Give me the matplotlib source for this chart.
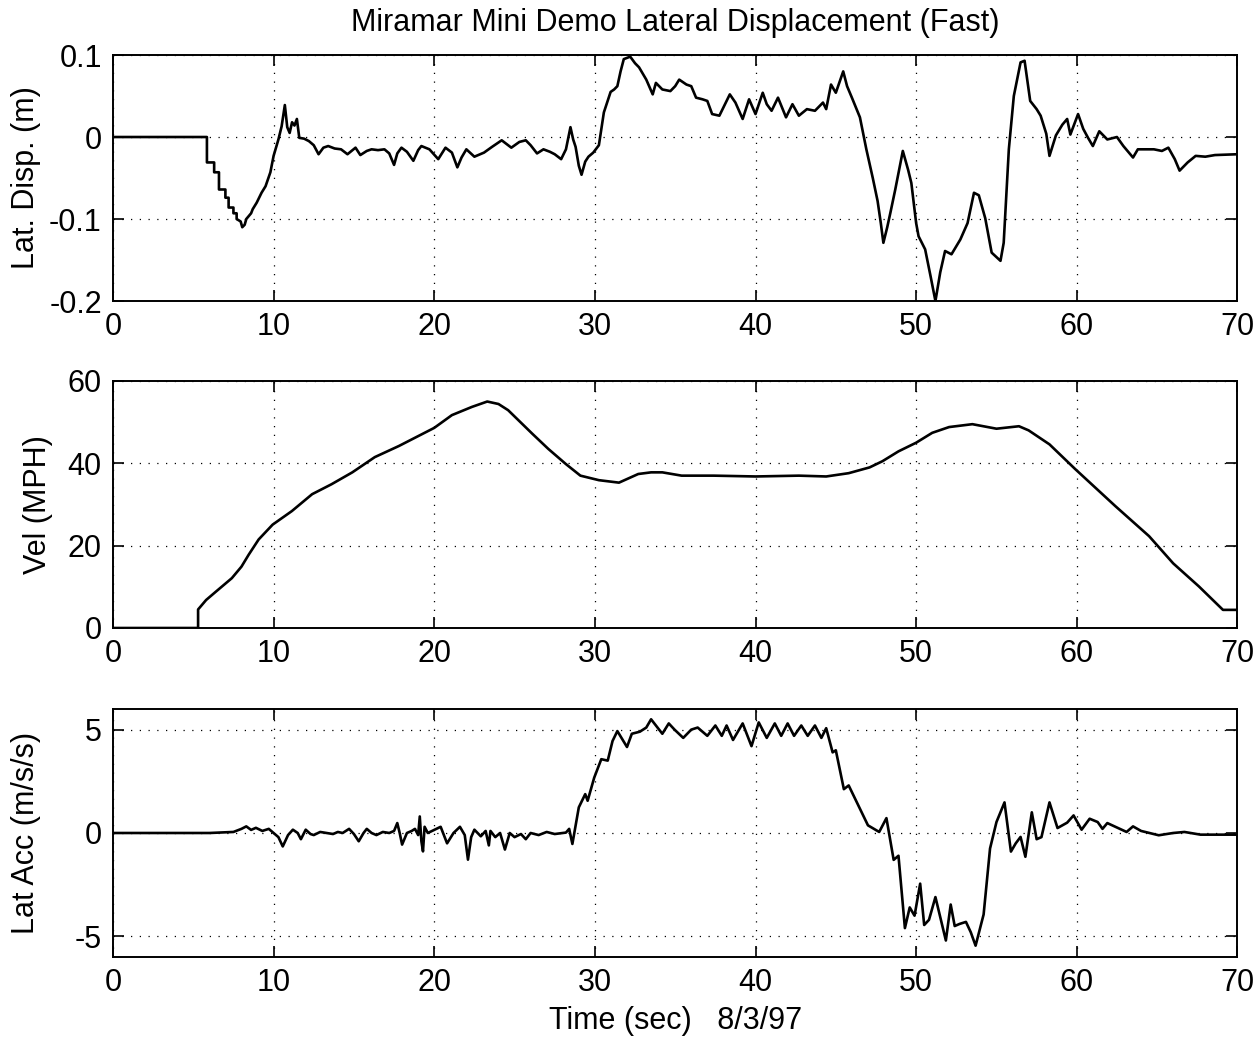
import numpy as np
import matplotlib
matplotlib.use('Agg')
import matplotlib.pyplot as plt

# lateral displacement (m)
t_disp = [0, 5.85, 5.85, 6.3, 6.3, 6.6, 6.6, 7.0, 7.0, 7.2, 7.2, 7.5, 7.5, 7.7, 7.7, 7.95, 8.05, 8.2,
          8.3, 8.6, 8.7, 8.95, 9.25, 9.5, 9.8, 10.0, 10.3, 10.5, 10.7, 10.85, 11.0, 11.15, 11.3, 11.45,
          11.6, 11.9, 12.2, 12.5, 12.8, 13.1, 13.4, 13.8, 14.2, 14.6, 15.1, 15.4, 15.8, 16.1, 16.5,
          16.9, 17.2, 17.5, 17.7, 17.96, 18.3, 18.7, 19.0, 19.2, 19.7, 20.25, 20.7, 21.1, 21.44, 21.7,
          22.0, 22.5, 23.1, 23.6, 24.2, 24.8, 25.3, 25.7, 26.0, 26.4, 26.8, 27.2, 27.5, 27.9, 28.2,
          28.48, 28.65, 28.8, 29.0, 29.17, 29.4, 29.6, 29.9, 30.25, 30.56, 30.98, 31.2, 31.4, 31.6,
          31.8, 32.2, 32.5, 32.75, 33.2, 33.6, 33.8, 34.2, 34.7, 35.0, 35.25, 35.7, 36.0, 36.3, 36.7,
          37.0, 37.3, 37.75, 38.1, 38.4, 38.75, 39.2, 39.6, 40.0, 40.45, 40.7, 41.0, 41.4, 41.9, 42.3,
          42.7, 43.2, 43.7, 44.2, 44.4, 44.7, 45.0, 45.46, 45.7, 46.0, 46.5, 46.9, 47.3, 47.6, 47.8,
          47.96, 48.2, 48.4, 48.7, 49.17, 49.5, 49.7, 50.0, 50.15, 50.56, 50.9, 51.2, 51.5, 51.8,
          52.2, 52.75, 53.2, 53.6, 53.9, 54.3, 54.7, 55.25, 55.45, 55.77, 56.08, 56.5, 56.75, 57.1,
          57.5, 57.75, 58.1, 58.3, 58.7, 59.1, 59.4, 59.6, 60.08, 60.4, 60.7, 61.0, 61.4, 61.9, 62.5,
          62.9, 63.5, 63.8, 64.8, 65.3, 65.7, 66.1, 66.4, 66.9, 67.4, 68.0, 68.6, 70.0]
disp = [0, 0, -0.031, -0.031, -0.043, -0.043, -0.064, -0.064, -0.074, -0.074, -0.086, -0.086, -0.093,
        -0.093, -0.100, -0.103, -0.110, -0.107, -0.100, -0.093, -0.088, -0.080, -0.068, -0.060, -0.043,
        -0.023, -0.003, 0.013, 0.039, 0.012, 0.005, 0.018, 0.014, 0.022, -0.001, -0.002, -0.005, -0.010,
        -0.021, -0.013, -0.011, -0.014, -0.015, -0.021, -0.013, -0.022, -0.017, -0.015, -0.016, -0.015,
        -0.020, -0.034, -0.020, -0.013, -0.018, -0.029, -0.016, -0.011, -0.015, -0.027, -0.013, -0.019,
        -0.037, -0.025, -0.015, -0.024, -0.019, -0.012, -0.004, -0.013, -0.006, -0.004, -0.010, -0.020,
        -0.015, -0.018, -0.021, -0.027, -0.015, 0.012, -0.003, -0.012, -0.035, -0.046, -0.030, -0.024,
        -0.019, -0.010, 0.030, 0.055, 0.058, 0.062, 0.080, 0.095, 0.098, 0.090, 0.085, 0.070, 0.052,
        0.066, 0.058, 0.056, 0.062, 0.070, 0.064, 0.062, 0.048, 0.046, 0.044, 0.028, 0.026, 0.040,
        0.052, 0.042, 0.022, 0.046, 0.028, 0.054, 0.040, 0.032, 0.048, 0.024, 0.040, 0.026, 0.034,
        0.032, 0.042, 0.034, 0.064, 0.054, 0.080, 0.062, 0.048, 0.024, -0.015, -0.050, -0.078, -0.105,
        -0.129, -0.110, -0.092, -0.064, -0.017, -0.040, -0.056, -0.105, -0.121, -0.137, -0.170, -0.200,
        -0.165, -0.139, -0.143, -0.125, -0.105, -0.068, -0.071, -0.099, -0.141, -0.151, -0.129, -0.015,
        0.050, 0.091, 0.093, 0.044, 0.034, 0.026, 0.004, -0.023, 0.002, 0.015, 0.022, 0.003, 0.028,
        0.010, -0.001, -0.011, 0.007, -0.003, 0.000, -0.011, -0.025, -0.015, -0.015, -0.017, -0.013,
        -0.027, -0.041, -0.031, -0.023, -0.024, -0.022, -0.021]

# velocity (MPH)
t_vel = [0, 5.3, 5.3, 5.8, 6.4, 7.4, 8.0, 8.45, 9.07, 9.94, 11.14, 12.4, 13.6, 14.9, 16.3, 17.8, 20.0,
         21.1, 22.35, 23.3, 24.0, 24.6, 25.1, 26.1, 27.1, 28.2, 29.1, 30.25, 31.5, 32.7, 33.5, 34.2,
         35.4, 37.4, 40.0, 42.7, 44.4, 45.8, 47.1, 47.9, 48.9, 50.0, 51.0, 52.05, 53.5, 55.0, 56.4,
         57.0, 58.3, 59.9, 62.4, 64.5, 66.0, 67.6, 69.1, 70.0]
vel = [0, 0, 4.5, 6.8, 8.8, 12.1, 14.9, 17.8, 21.5, 25.1, 28.4, 32.5, 34.9, 37.8, 41.5, 44.2, 48.6,
       51.7, 53.7, 55.0, 54.4, 52.9, 51.0, 47.2, 43.5, 39.8, 37.0, 35.9, 35.3, 37.4, 37.8, 37.8,
       37.0, 37.0, 36.8, 37.0, 36.8, 37.6, 39.0, 40.5, 42.9, 45.0, 47.4, 48.8, 49.5, 48.4, 49.0,
       48.0, 44.6, 38.6, 29.6, 22.3, 15.7, 10.1, 4.4, 4.4]

# lateral acceleration (m/s/s)
t_acc = [0, 6.0, 7.5, 8.0, 8.3, 8.6, 8.9, 9.3, 9.7, 10.0, 10.3, 10.57, 10.9, 11.2, 11.5, 11.7, 12.0,
         12.3, 12.5, 12.9, 13.3, 13.7, 14.0, 14.3, 14.7, 15.0, 15.3, 15.6, 15.8, 16.1, 16.4, 16.8,
         17.2, 17.5, 17.7, 17.85, 18.0, 18.3, 18.6, 18.8, 19.0, 19.1, 19.2, 19.3, 19.4, 19.6, 20.0,
         20.4, 20.8, 21.2, 21.6, 21.9, 22.1, 22.3, 22.5, 22.9, 23.2, 23.4, 23.5, 23.8, 24.1, 24.4,
         24.7, 25.0, 25.4, 25.7, 26.0, 26.5, 27.0, 27.5, 28.2, 28.4, 28.6, 29.0, 29.4, 29.55, 29.96,
         30.4, 30.8, 31.1, 31.4, 32.0, 32.3, 32.8, 33.2, 33.5, 33.8, 34.2, 34.6, 34.96, 35.5, 36.0,
         36.4, 37.0, 37.5, 37.9, 38.2, 38.6, 39.2, 39.75, 40.2, 40.7, 41.2, 41.6, 42.0, 42.4, 42.85,
         43.25, 43.7, 44.1, 44.4, 44.8, 45.0, 45.5, 45.8, 46.5, 47.0, 47.7, 48.15, 48.6, 48.9, 49.3,
         49.6, 49.9, 50.25, 50.5, 50.8, 51.2, 51.85, 52.15, 52.4, 52.7, 53.1, 53.4, 53.7, 54.2, 54.6,
         55.0, 55.5, 55.9, 56.2, 56.5, 56.8, 57.2, 57.5, 57.8, 58.3, 58.8, 59.4, 59.8, 60.3, 60.8,
         61.3, 61.6, 61.9, 62.4, 63.1, 63.5, 64.0, 65.1, 66.0, 66.7, 67.7, 70.0]
acc = [0, 0, 0.05, 0.2, 0.32, 0.15, 0.25, 0.1, 0.2, 0.0, -0.2, -0.65, -0.1, 0.16, 0.0, -0.3, 0.16,
       -0.05, -0.1, 0.05, 0.0, -0.05, 0.05, 0.0, 0.2, -0.05, -0.4, 0.0, 0.2, 0.0, -0.1, 0.05,
       0.0, 0.1, 0.48, 0.0, -0.56, 0.0, 0.1, 0.2, -0.1, 0.8, -0.4, -0.89, 0.3, 0.0, 0.15,
       0.3, -0.5, 0.0, 0.3, -0.1, -1.29, -0.2, 0.16, -0.16, 0.1, -0.6, 0.1, -0.2, 0.0, -0.8,
       0.0, -0.2, -0.05, -0.3, 0.0, -0.1, 0.05, -0.05, 0.02, 0.2, -0.53, 1.24, 1.88, 1.56, 2.68,
       3.57, 3.5, 4.45, 4.93, 4.16, 4.8, 4.9, 5.1, 5.5, 5.2, 4.8, 5.3, 5.0, 4.6, 5.0,
       5.1, 4.7, 5.2, 4.7, 5.2, 4.5, 5.3, 4.2, 5.35, 4.6, 5.3, 4.7, 5.3, 4.7, 5.2,
       4.7, 5.2, 4.6, 5.07, 3.9, 4.0, 2.12, 2.3, 1.17, 0.37, 0.05, 0.72, -1.3, -1.1, -4.6,
       -3.6, -4.0, -2.45, -4.45, -4.2, -3.1, -5.2, -3.46, -4.5, -4.4, -4.3, -4.8, -5.45, -3.94, -0.75,
       0.53, 1.48, -0.9, -0.5, -0.19, -1.15, 1.0, -0.3, -0.2, 1.48, 0.24, 0.5, 0.85, 0.16, 0.69,
       0.53, 0.2, 0.48, 0.3, 0.05, 0.32, 0.1, -0.11, 0.0, 0.05, -0.08, -0.08]

xticks = [0, 10, 20, 30, 40, 50, 60, 70]
disp_ticks = [-0.2, -0.1, 0, 0.1]
disp_labels = ['-0.2', '-0.1', '0', '0.1']
vel_ticks = [0, 20, 40, 60]
acc_ticks = [-5, 0, 5]

plt.rcParams['font.family'] = ['Liberation Sans', 'DejaVu Sans']
plt.rcParams['font.size'] = 22
plt.rcParams['axes.unicode_minus'] = False

fig = plt.figure(figsize=(12.55, 10.38), dpi=100)
ax1 = fig.add_axes([0.090, 0.710, 0.896, 0.237])
ax2 = fig.add_axes([0.090, 0.395, 0.896, 0.238])
ax3 = fig.add_axes([0.090, 0.078, 0.896, 0.239])

ax1.plot(t_disp, disp, color='k', lw=1.9)
ax2.plot(t_vel, vel, color='k', lw=1.9)
ax3.plot(t_acc, acc, color='k', lw=1.9)

for ax in [ax1, ax2, ax3]:
    ax.set_xlim(0, 70)
    ax.set_xticks(xticks)
    ax.grid(True, color='k', linestyle=(0, (1, 6)), linewidth=0.9)
    ax.tick_params(direction='in', top=True, right=True, length=8, width=1.2, pad=8)
    for s in ax.spines.values():
        s.set_linewidth(1.4)

ax1.set_ylim(-0.2, 0.1)
ax1.set_yticks(disp_ticks)
ax1.set_yticklabels(disp_labels)
ax1.set_ylabel('Lat. Disp. (m)')
ax1.yaxis.set_label_coords(-0.064, 0.5)
ax1.set_title('Miramar Mini Demo Lateral Displacement (Fast)', fontsize=22, pad=17)

ax2.set_ylim(0, 60)
ax2.set_yticks(vel_ticks)
ax2.set_ylabel('Vel (MPH)')
ax2.yaxis.set_label_coords(-0.053, 0.5)

ax3.set_ylim(-6, 6)
ax3.set_yticks(acc_ticks)
ax3.set_ylabel('Lat Acc (m/s/s)')
ax3.yaxis.set_label_coords(-0.064, 0.5)
ax3.set_xlabel('Time (sec)   8/3/97', labelpad=6)

fig.savefig('out.png', dpi=100)
